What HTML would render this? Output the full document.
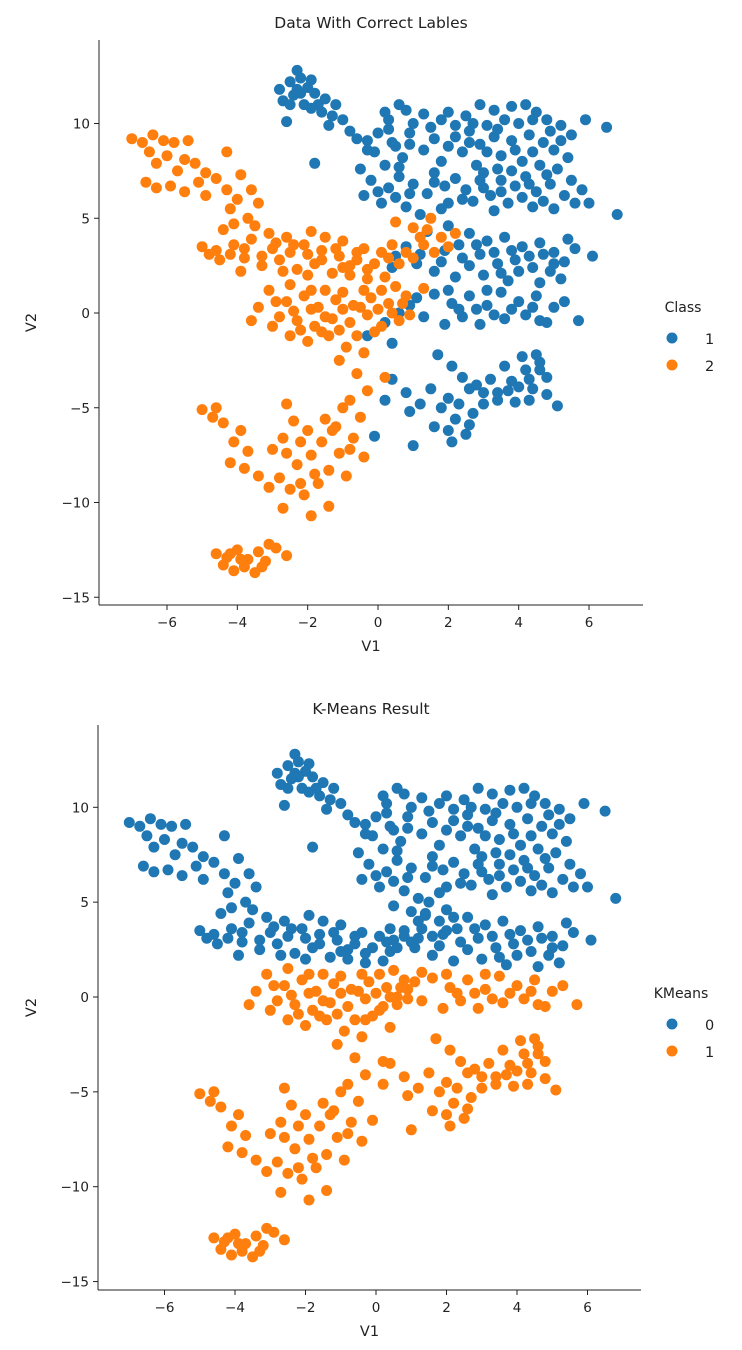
<!DOCTYPE html>
<html><head><meta charset="utf-8"><style>
html,body{margin:0;padding:0;background:#fff}
svg{display:block;font-family:"DejaVu Sans","Liberation Sans",sans-serif}
</style></head><body>
<svg id="chart" width="742" height="1350" viewBox="0 0 742 1350" xmlns="http://www.w3.org/2000/svg"></svg>
<script>
// class 1, kmeans 0
const class1Km0 = [[-2.5,12.2],[-2.3,12.8],[-2.2,12.4],[-2.0,11.9],[-2.4,11.5],[-2.7,11.2],[-1.8,11.6],[-1.5,11.3],[-2.1,11.0],[-1.2,11.0],[-1.6,10.6],[-2.6,10.1],[-1.0,10.2],[-0.8,9.6],[-1.4,9.9],[-0.6,9.2],[-0.3,8.6],[-1.8,7.9],[-2.8,11.8],[-1.9,12.3],[-2.3,11.8],[-1.3,10.4],
[-2.2,11.6],[-1.7,11.0],[-2.5,11.0],[-1.9,10.8],
[0.6,11.0],[1.3,10.5],[0.3,10.2],[1.8,10.2],[2.5,10.4],[2.9,11.0],[3.3,10.7],[3.8,10.9],[4.2,11.0],[4.5,10.6],[3.6,10.2],[4.0,10.0],[2.2,9.9],[1.0,10.0],[4.8,10.2],[5.2,9.9],[5.9,10.2],[6.5,9.8],[0.8,10.7],[2.6,9.6],[3.1,9.9],
[0.2,10.6],[1.5,9.8],[2.0,10.6],[2.7,10.0],[3.4,9.7],[4.4,10.2],[4.9,9.6],[5.5,9.4],[0.3,9.7],[-0.3,9.1],[0.9,8.9],[2.2,9.3],[2.6,9.0],[3.1,8.5],[3.9,8.6],[4.4,8.5],[5.2,9.1],
[0.0,9.5],[0.4,9.0],[-0.1,8.5],[0.7,8.2],[0.2,7.8],[1.6,9.2],[2.0,8.8],[1.8,8.0],[1.6,7.4],[2.4,8.5],[2.9,8.9],[3.3,9.3],[3.8,9.1],[4.3,9.4],[4.7,9.0],[5.0,8.6],[3.5,8.3],[4.1,8.0],[4.6,7.8],[5.1,7.6],[5.4,8.2],[2.8,7.8],[0.9,9.5],[1.3,8.6],
[3.0,7.4],[3.4,7.6],[3.8,7.5],[4.3,6.8],[4.8,7.3],[5.5,7.0],[5.8,6.5],[2.4,6.0],[3.0,6.6],[3.5,6.4],[4.1,6.1],[0.0,6.4],[0.5,6.1],[1.6,6.9],[0.6,7.7],[-0.5,7.6],[0.9,6.3],[1.8,5.5],[3.3,5.4],[4.7,5.9],
[-0.2,7.0],[0.3,6.6],[0.6,7.2],[1.0,6.8],[1.4,6.3],[0.1,5.8],[0.8,5.6],[1.9,6.7],[2.2,7.1],[2.5,6.5],[2.9,7.0],[3.2,6.2],[3.5,7.0],[3.9,6.7],[4.2,7.2],[4.5,6.4],[4.9,6.8],[5.3,6.2],[2.0,5.8],[2.7,5.9],[3.7,5.8],[4.4,5.6],[5.0,5.5],[5.6,5.8],[6.0,5.8],[6.8,5.2],[1.2,5.2],[-0.4,6.2],[0.5,8.8],
[1.4,4.3],[2.0,4.6],[2.6,4.2],[3.1,3.8],[3.6,4.0],[4.1,3.5],[4.6,3.7],[5.0,3.2],[5.4,3.9],[1.9,3.3],[2.4,2.9],[2.9,3.1],[3.4,2.6],[3.9,2.8],[4.4,2.4],[4.9,2.2],[5.3,2.7],[5.2,1.8],[6.1,3.0],[1.6,2.2],[2.2,1.9],[3.0,2.0],[3.7,1.7],[4.6,1.6],[0.8,3.5],[1.1,2.6],[0.4,2.4],
[2.3,3.6],[2.8,3.6],[3.3,3.2],[3.8,3.3],[4.3,3.0],[4.7,3.1],[5.6,3.4],[5.0,2.6],[1.8,2.7],[2.6,2.5],[3.5,2.1],[4.0,2.2],[1.2,3.1],[0.5,3.0]];
// class 1, kmeans 1
const class1Km1 = [[1.6,1.0],[2.1,0.5],[2.6,0.9],[3.1,0.4],[3.5,1.1],[4.0,0.6],[4.5,0.9],[5.0,0.3],[5.7,-0.4],[2.4,-0.2],[2.9,-0.6],[3.6,-0.3],[4.2,-0.1],[4.8,-0.5],[1.9,-0.6],[1.3,-0.2],[0.9,0.4],[0.2,-0.5],[-0.3,-1.2],[0.4,-1.6],
[2.3,0.2],[2.8,0.2],[3.3,-0.1],[3.8,0.2],[4.4,0.3],[4.6,-0.4],[5.3,0.6],[3.1,1.2],[2.0,1.2],[1.1,0.8],[0.6,0.0],
[1.7,-2.2],[2.1,-2.8],[2.4,-3.4],[1.5,-4.0],[2.0,-4.5],[2.6,-4.0],[3.0,-4.8],[3.4,-4.2],[3.8,-3.6],[4.2,-3.0],[4.6,-2.6],[4.1,-2.3],[3.6,-2.8],[4.4,-4.0],[4.8,-3.4],[5.1,-4.9],[3.2,-3.5],[2.7,-5.3],[2.2,-5.6],[2.5,-6.4],[2.1,-6.8],[1.6,-6.0],[1.2,-4.8],[0.8,-4.2],[0.4,-3.5],[0.2,-4.6],[1.0,-7.0],[-0.1,-6.5],[3.9,-4.7],[4.5,-2.2],[0.9,-5.2],
[3.4,-4.6],[3.7,-4.1],[4.3,-3.5],[4.6,-3.0],[4.0,-3.9],[3.0,-4.2],[2.8,-3.8],[2.3,-4.8],[1.8,-5.0],[4.8,-4.3],[4.3,-4.6],[2.0,-6.2],[2.6,-5.9]];
// class 2, kmeans 0
const class2Km0 = [[-7.0,9.2],[-6.7,9.0],[-6.4,9.4],[-6.1,9.1],[-5.8,9.0],[-5.4,9.1],[-6.5,8.5],[-6.0,8.3],[-5.5,8.1],[-5.2,7.9],[-4.9,7.4],[-4.6,7.1],[-6.3,7.9],[-5.7,7.5],[-6.6,6.9],[-6.3,6.6],[-5.9,6.7],[-5.5,6.4],[-5.1,6.9],[-4.9,6.2],[-4.3,6.5],[-3.9,7.3],[-3.6,6.5],[-3.4,5.8],[-4.2,5.5],[-3.7,5.0],[-4.1,4.7],[-4.4,4.4],[-5.0,3.5],[-4.6,3.3],[-4.1,3.6],[-3.6,3.9],[-3.1,4.2],[-2.6,4.0],[-2.1,3.6],[-1.6,3.3],[-1.1,3.0],[-0.6,2.8],[-0.1,2.6],[0.3,2.9],[0.8,3.2],[1.3,3.6],[1.8,4.0],[2.2,4.2],[-3.8,2.9],[-3.3,2.5],[-2.8,2.8],[-2.3,2.3],[-1.8,2.6],[-1.3,2.1],[-0.8,2.0],[-0.3,1.8],[0.2,1.9],[-3.0,3.4],[-1.0,3.8],[0.5,4.8],[1.0,4.5],[1.5,5.0],[-2.5,3.2],[-4.5,2.8],[-3.9,2.2],[-0.4,3.4],[1.2,4.0],[-2.0,2.0],[-1.5,4.0],[-4.3,8.5],[-4.0,6.0],[-3.5,4.6],
[-3.8,3.4],[-3.3,3.0],[-2.9,3.7],[-2.4,3.6],[-2.0,3.1],[-1.6,2.8],[-1.2,3.4],[-0.8,2.5],[-0.3,2.3],[0.1,3.2],[0.6,2.6],[1.0,2.9],[1.6,3.2],[2.0,3.5],[-4.8,3.1],[-4.2,3.1],[-1.0,2.4],[-0.6,3.2],[0.4,3.6],[1.4,4.4],[-2.7,2.2],[-1.9,4.3]];
// class 2, kmeans 1
const class2Km1 = [[-3.1,1.2],[-2.6,0.6],[-2.1,0.9],[-1.7,0.3],[-1.2,0.7],[-0.7,0.4],[-0.2,0.8],[0.3,0.5],[0.8,0.9],[1.3,1.3],[-2.8,-0.2],[-2.3,-0.4],[-1.8,-0.7],[-1.3,-0.3],[-0.8,-0.5],[-0.3,-0.1],[0.1,-0.7],[0.6,-0.4],[-2.5,-1.2],[-2.0,-1.5],[-1.4,-1.2],[-0.9,-1.8],[-0.4,-2.1],[-1.1,-2.5],[-0.6,-3.2],[-0.3,-4.1],[-0.8,-4.6],[0.2,-3.4],[-3.4,0.3],[-3.6,-0.4],[-1.5,1.2],[-2.5,1.5],[0.5,1.4],
[-2.9,0.6],[-2.4,0.1],[-1.9,0.2],[-1.5,-0.2],[-1.0,0.2],[-0.5,0.3],[0.0,0.2],[0.4,0.0],[0.9,-0.1],[-2.2,-0.9],[-1.6,-1.0],[-1.1,-0.9],[-0.6,-1.2],[-0.1,-1.0],[-3.0,-0.7],[-1.9,1.2],[-1.0,1.1],[-0.4,1.2],[0.1,1.2],[0.7,0.5],
[-5.0,-5.1],[-4.7,-5.5],[-4.4,-5.8],[-4.6,-5.0],[-3.9,-6.2],[-4.1,-6.8],[-3.7,-7.3],[-4.2,-7.9],[-3.8,-8.2],[-3.4,-8.6],[-3.0,-7.2],[-2.7,-6.6],[-2.4,-5.7],[-2.6,-4.8],[-2.0,-6.2],[-1.6,-6.8],[-1.9,-7.5],[-2.3,-8.0],[-2.8,-8.7],[-2.5,-9.3],[-2.1,-9.6],[-1.7,-9.0],[-1.4,-8.3],[-1.1,-7.4],[-0.7,-6.6],[-0.5,-5.5],[-1.0,-5.0],[-1.5,-5.6],[-2.7,-10.3],[-1.9,-10.7],[-1.4,-10.2],[-3.1,-9.2],[-0.9,-8.6],[-0.4,-7.6],
[-2.2,-6.8],[-2.6,-7.4],[-1.3,-6.2],[-1.8,-8.5],[-2.2,-9.0],[-0.8,-7.2],[-1.2,-6.0],
[-4.6,-12.7],[-4.3,-12.9],[-4.0,-12.5],[-3.7,-13.0],[-3.4,-12.6],[-3.1,-12.2],[-2.6,-12.8],[-3.8,-13.4],[-3.5,-13.7],[-4.4,-13.3],[-3.2,-13.1],[-2.9,-12.4],[-4.1,-13.6],[-3.9,-13.0],[-3.3,-13.4],[-4.2,-12.7]];
const xTicks = [-6,-4,-2,0,2,4,6];
const yTicks = [10,5,0,-5,-10,-15];
const BLUE = "#1f77b4", ORANGE = "#ff7f0e";
const NS = "http://www.w3.org/2000/svg";
const svg = document.getElementById("chart");
function mk(tag, attrs, parent, text){
  const e = document.createElementNS(NS, tag);
  for (const k in attrs) e.setAttribute(k, attrs[k]);
  if (text !== undefined) e.textContent = text;
  parent.appendChild(e);
  return e;
}
function panel(cfg){
  const g = mk("g", {}, svg);
  
  
  const sx = v => cfg.x0 + v * cfg.kx;
  const sy = v => cfg.y0 - v * cfg.ky;
  const t = mk("text", {x: 371, y: cfg.titleY, "text-anchor":"middle", "font-size":"15.5", fill:"#222"}, g, cfg.title);
  
  
  const pts = mk("g", {}, g);
  
  
  cfg.series.forEach(s => {
    s.data.forEach(p => {
      const c = mk("circle", {cx: sx(p[0]).toFixed(1), cy: sy(p[1]).toFixed(1), r: 5.5, fill: s.color}, pts);
      
      
    });
  });
  const ys = mk("line", {x1: cfg.left, x2: cfg.left, y1: cfg.top, y2: cfg.bottom, stroke:"#222", "stroke-width":1}, g);
  
  
  const xs = mk("line", {x1: cfg.left, x2: cfg.right, y1: cfg.bottom, y2: cfg.bottom, stroke:"#222", "stroke-width":1}, g);
  
  
  xTicks.forEach(v => {
    const x = sx(v);
    const tk = mk("line", {x1:x, x2:x, y1:cfg.bottom, y2:cfg.bottom+5, stroke:"#222"}, g);
    
    
    const lb = mk("text", {x:x, y:cfg.bottom+22, "text-anchor":"middle", "font-size":"13.5", fill:"#222"}, g, v < 0 ? "\u2212" + (-v) : String(v));
    
    
  });
  yTicks.forEach(v => {
    const y = sy(v);
    const tk = mk("line", {x1:cfg.left-5, x2:cfg.left, y1:y, y2:y, stroke:"#222"}, g);
    
    
    const lb = mk("text", {x:cfg.left-9, y:y+5, "text-anchor":"end", "font-size":"13.5", fill:"#222"}, g, v < 0 ? "\u2212" + (-v) : String(v));
    
    
  });
  const xl = mk("text", {x: (cfg.left+cfg.right)/2, y: cfg.bottom+46, "text-anchor":"middle", "font-size":"14.5", fill:"#222"}, g, "V1");
  
  
  const ym = (cfg.top+cfg.bottom)/2;
  const yl = mk("text", {x: 36, y: ym, "text-anchor":"middle", "font-size":"14.5", fill:"#222", transform:`rotate(-90 36 ${ym})`}, g, "V2");
  
  
  const lg = mk("g", {}, g);
  
  
  const lt = mk("text", {x: cfg.legX, y: cfg.legY, "text-anchor":"middle", "font-size":"14", fill:"#222"}, lg, cfg.legTitle);
  
  
  cfg.legend.forEach((e, i) => {
    const cy = cfg.legY + 26 + i*27;
    const c = mk("circle", {cx: 672, cy: cy, r: 5.5, fill: e.color}, lg);
    
    
    const tx = mk("text", {x: 705, y: cy+6, "font-size":"14.5", fill:"#222"}, lg, e.label);
    
    
  });
}
panel({name:"class-scatter-panel", title:"Data With Correct Lables", titleY:28,
  x0:378, kx:35.17, y0:313, ky:18.95, left:99, right:643, top:40, bottom:605,
  series:[{data:class1Km0,color:BLUE},{data:class1Km1,color:BLUE},{data:class2Km0,color:ORANGE},{data:class2Km1,color:ORANGE}],
  legTitle:"Class", legX:683, legY:312, legend:[{label:"1",color:BLUE},{label:"2",color:ORANGE}]});
panel({name:"kmeans-scatter-panel", title:"K-Means Result", titleY:714,
  x0:376, kx:35.25, y0:997, ky:18.97, left:98, right:641, top:725, bottom:1290,
  series:[{data:class1Km0,color:BLUE},{data:class2Km0,color:BLUE},{data:class1Km1,color:ORANGE},{data:class2Km1,color:ORANGE}],
  legTitle:"KMeans", legX:681, legY:998, legend:[{label:"0",color:BLUE},{label:"1",color:ORANGE}]});
</script>
</body></html>
